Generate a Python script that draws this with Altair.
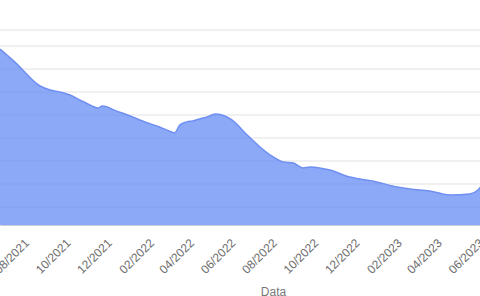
import altair as alt
import pandas as pd

dates = [
    "2021-06-28", "2021-07-20", "2021-08-26", "2021-09-10", "2021-09-24",
    "2021-10-09", "2021-10-24", "2021-11-08", "2021-11-19", "2021-11-26",
    "2021-12-17", "2022-01-10", "2022-01-20", "2022-02-18", "2022-03-08",
    "2022-03-12", "2022-03-20", "2022-03-30", "2022-04-08", "2022-04-18",
    "2022-04-29", "2022-05-11", "2022-05-21", "2022-06-05", "2022-06-27",
    "2022-07-16", "2022-07-31", "2022-08-19", "2022-09-03", "2022-09-17",
    "2022-09-28", "2022-10-12", "2022-10-27", "2022-11-25", "2022-12-10",
    "2023-01-04", "2023-02-03", "2023-02-22", "2023-03-23", "2023-04-22",
    "2023-05-21", "2023-06-02", "2023-06-08",
]
values = [
    78.7, 73.0, 62.6, 60.9, 60.0,
    58.7, 56.5, 54.3, 53.0, 53.9,
    51.7, 49.1, 47.8, 44.8, 42.6,
    42.2, 45.7, 47.0, 47.4, 48.3,
    49.1, 50.4, 50.0, 47.8, 41.3,
    36.1, 32.6, 29.6, 29.1, 27.0,
    27.4, 27.0, 26.1, 23.0, 22.2,
    20.9, 18.7, 17.8, 17.0, 15.2,
    15.7, 17.4, 19.6,
]

tick_years = [2021, 2021, 2021, 2022, 2022, 2022, 2022, 2022, 2022, 2023, 2023, 2023]
tick_months = [8, 10, 12, 2, 4, 6, 8, 10, 12, 2, 4, 6]

y_min, y_max = 2.17, 86.96
grid_values = [10, 20, 30, 40, 50, 60, 70, 80, y_max]

df = pd.DataFrame({"Data": dates, "Valor": values})
grid_df = pd.DataFrame({"g": grid_values})

tick_vals = [alt.DateTime(year=y, month=m, date=1) for y, m in zip(tick_years, tick_months)]

x_scale = alt.Scale(domain=["2021-06-28", "2023-06-05"], nice=False)
y_scale = alt.Scale(domain=[y_min, y_max], nice=False, zero=False)

x_enc = alt.X(
    "Data:T",
    scale=x_scale,
    axis=alt.Axis(
        values=tick_vals,
        format="%m/%Y",
        labelAngle=-45,
        labelPadding=12,
        labelFont="Liberation Sans",
        labelFontSize=12,
        labelColor="#6e6e6e",
        ticks=False,
        grid=False,
        domainColor="#c8cbd6",
        title="Data",
        titleFont="Liberation Sans",
        titleFontSize=12,
        titleFontWeight="normal",
        titleColor="#777777",
        titleX=273,
        titleY=61,
        titleBaseline="top",
        titleAlign="center",
        labelOverlap=False,
    ),
)
y_enc = alt.Y(
    "Valor:Q",
    scale=y_scale,
    axis=None,
)

grid = alt.Chart(grid_df).mark_rule(color="#e2e2e2", strokeWidth=1).encode(
    y=alt.Y("g:Q", scale=y_scale, axis=None)
)

area = alt.Chart(df).mark_area(
    color="#5b84f5", opacity=0.7, interpolate="monotone", clip=True
).encode(x=x_enc, y=y_enc)

line = alt.Chart(df).mark_line(
    color="#6f8ff2", strokeWidth=1.5, interpolate="monotone", clip=True
).encode(x="Data:T", y="Valor:Q")

chart = (
    alt.layer(grid, area, line)
    .properties(
        width=480,
        height=195,
        autosize=alt.AutoSizeParams(type="none"),
        padding={"left": 0, "right": 0, "top": 30, "bottom": 71},
    )
    .configure_view(stroke=None)
)

chart.save("out.html", embed_options={"renderer": "svg", "actions": False})
